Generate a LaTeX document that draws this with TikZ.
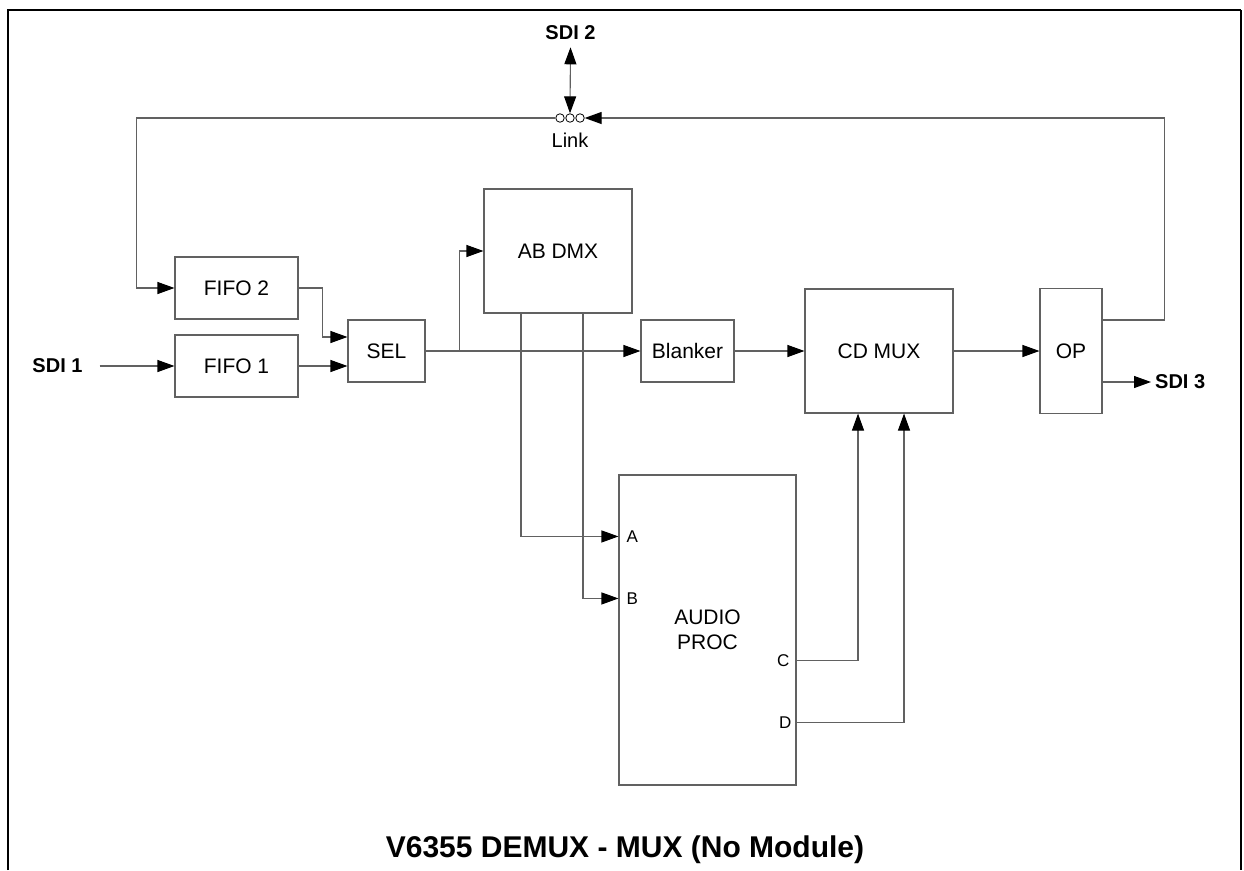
\documentclass[tikz,border=0pt]{standalone}
\usepackage{fontspec}
\setmainfont{Liberation Sans}
\usetikzlibrary{arrows.meta, positioning, shapes}
\definecolor{linegray}{gray}{0.38}

\begin{document}
\begin{tikzpicture}[x=1pt, y=-1pt,
  block/.style={draw=linegray, line width=1.1pt, inner sep=0pt, align=center, font=\fontsize{21}{25}\selectfont},
  port/.style={inner sep=0pt, font=\fontsize{17}{20}\selectfont},
  sig/.style={inner sep=0pt, font=\fontsize{20}{24}\selectfont\bfseries},
  wire/.style={draw=linegray, line width=1.1pt},
  arr/.style={wire, -{Triangle[length=17pt, width=12pt, color=black]}},
  darr/.style={wire, {Triangle[length=17pt, width=12pt, color=black]}-{Triangle[length=17pt, width=12pt, color=black]}},
  jack/.style={draw=black, line width=0.8pt, circle, inner sep=0pt, minimum size=8.5pt, fill=white}]
            \useasboundingbox (0,0) rectangle (1244,870);
            % frame
            \draw[line width=2.8pt] (8,870) -- (8,10) -- (1241,10);
            \draw[line width=1.6pt] (1241,10) -- (1241,870);

            \node[block, minimum width=123pt, minimum height=62pt] (fifo2) at (236.5,288) {FIFO 2};
            \node[block, minimum width=123pt, minimum height=62pt] (fifo1) at (236.5,366) {FIFO 1};
            \node[block, minimum width=77pt, minimum height=62pt] (sel) at (386.5,351) {SEL};
            \node[block, minimum width=148pt, minimum height=124pt] (abdmx) at (558,251) {AB DMX};
            \node[block, minimum width=93pt, minimum height=62pt] (blanker) at (687.5,351) {Blanker};
            \node[block, minimum width=148pt, minimum height=124pt] (cdmux) at (879,351) {CD MUX};
            \node[block, minimum width=62pt, minimum height=125pt] (op) at (1071,351) {OP};
            \node[block, minimum width=177pt, minimum height=310pt] (audio) at (707.5,630) {AUDIO\\PROC};

            % ports of the audio block
            \coordinate (pA) at ([yshift=-62pt]audio.north west);
            \coordinate (pB) at ([yshift=-124pt]audio.north west);
            \coordinate (pC) at ([yshift=-186pt]audio.north east);
            \coordinate (pD) at ([yshift=-248pt]audio.north east);
            \node[port, right=8pt of pA] (lA) {A};
            \node[port, right=8pt of pB] (lB) {B};
            \node[port, left=7pt of pC] (lC) {C};
            \node[port, left=5pt of pD] (lD) {D};

            % link
            \foreach \i/\x in {1/560, 2/570, 3/580}
                \node[jack] (l\i) at (\x,118) {};
            \node[inner sep=0pt, below=10.5pt of l2, font=\fontsize{20}{24}\selectfont] (link) {Link};

            \node[sig] (sdi1) at (57.5,366) {SDI 1};
            \node[sig] (sdi2) at (570.5,33) {SDI 2};
            \node[sig, anchor=west] (sdi3) at (1155,382) {SDI 3};
            \node[font=\fontsize{30}{36}\selectfont\bfseries, anchor=base] (title) at (625,857) {V6355 DEMUX - MUX (No Module)};

            \draw[arr] ([xshift=17pt]sdi1.east) -- (fifo1.west);
            \draw[arr] (fifo1.east) -- (fifo1.east -| sel.west);
            \draw[arr] (fifo2.east) -- ++(24,0) |- ([yshift=14pt]sel.west);
            \path[arr] (sel) edge (blanker);
            \draw[arr] ([xshift=34pt]sel.east) |- (abdmx.west);
            \draw[arr] ([xshift=-37pt]abdmx.south) |- (pA);
            \draw[arr] ([xshift=25pt]abdmx.south) |- (pB);
            \draw[arr] (pC) -| ([xshift=-21pt]cdmux.south);
            \draw[arr] (pD) -| ([xshift=25pt]cdmux.south);
            \path[arr] (blanker) edge (cdmux);
            \path[arr] (cdmux) edge (op);
            \draw[arr] ([yshift=-31pt]op.east) -- ([xshift=-4pt]sdi3.west);

            % feedback through the link
            \draw[arr] ([yshift=31pt]op.east) -- ++(62,0) |- (l3.east);
            \draw[arr] (l1.west) -| ([xshift=-38pt]fifo2.west) -- (fifo2.west);
            \draw[darr] ([yshift=-7pt]sdi2.south) -- (l2.north);
\end{tikzpicture}
\end{document}
